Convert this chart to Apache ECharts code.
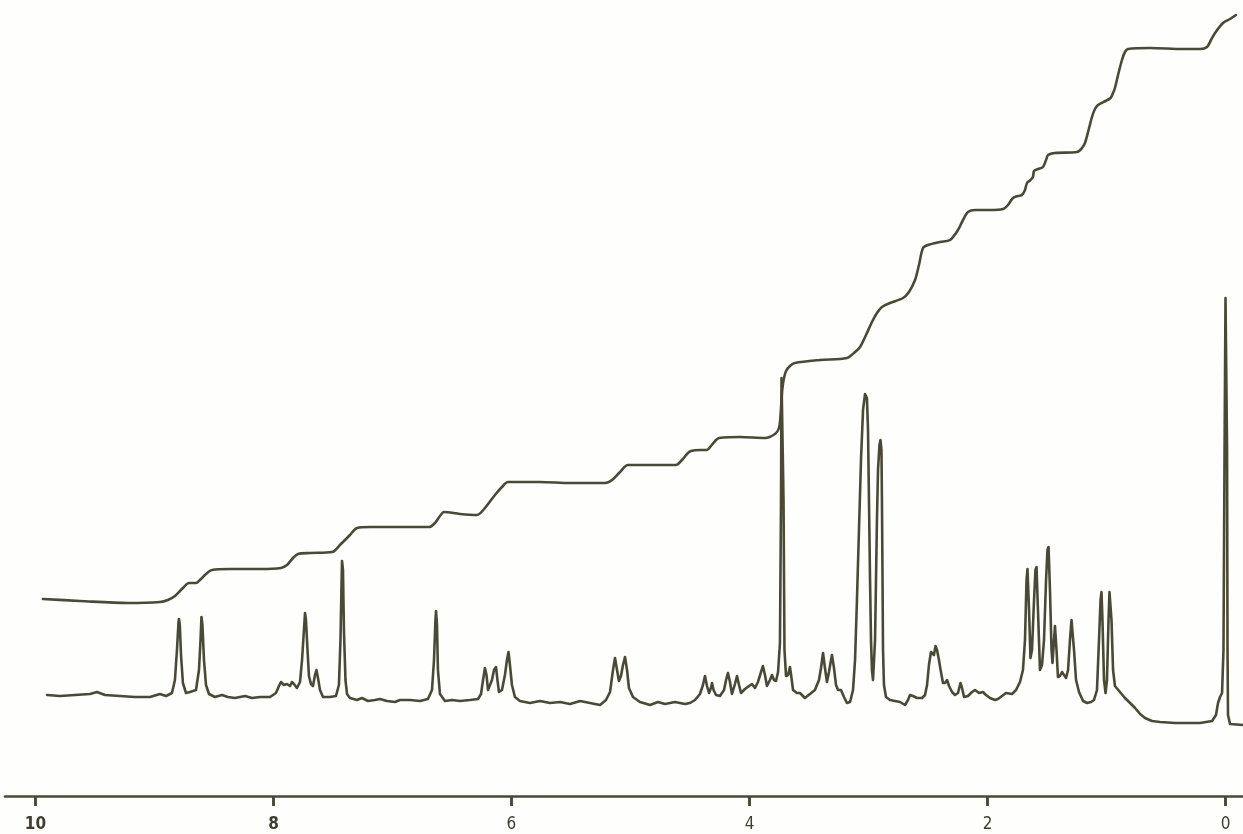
<!DOCTYPE html>
<html>
<head>
<meta charset="utf-8">
<script src="https://cdn.jsdelivr.net/npm/echarts@6/dist/echarts.min.js"></script>
<style>
html,body{margin:0;padding:0;background:#fefefc;}
#c{width:1243px;height:834px;}
</style>
</head>
<body>
<div id="c"></div>
<script>
// chemical shift tick labels (ppm)
const tickLabels = [10, 8, 6, 4, 2, 0];

// 1H NMR spectrum trace: [chemical shift (ppm), intensity (arb. units)]
const spectrumPoints = [
[9.903,35],[9.794,34],[9.668,35],[9.542,36],[9.483,38],[9.416,35],[9.290,34],[9.164,33],[9.038,33],[8.954,36],[8.903,34],[8.853,37],
[8.828,50],[8.811,80],[8.798,108],[8.794,111],[8.787,105],[8.777,75],[8.761,47],[8.735,37],[8.702,38],[8.651,40],
[8.626,60],[8.613,90],[8.605,113],[8.597,105],[8.584,70],[8.567,45],[8.542,36],[8.492,33],[8.433,35],[8.382,33],[8.324,32],
[8.239,34],[8.181,32],[8.113,33],[8.029,33],[7.979,37],[7.954,44],[7.937,48],[7.912,45],[7.887,46],[7.861,44],[7.845,48],[7.828,46],
[7.803,42],[7.777,48],[7.760,70],[7.744,100],[7.735,117],[7.727,110],[7.714,80],[7.702,54],[7.685,46],[7.668,44],[7.651,55],[7.639,60],
[7.626,52],[7.609,40],[7.584,33],[7.525,33],[7.475,34],[7.450,45],[7.437,90],[7.429,140],[7.424,169],[7.416,160],[7.408,100],[7.395,50],
[7.382,36],[7.357,32],[7.298,30],[7.256,32],[7.206,29],[7.147,30],[7.105,31],[7.046,29],[6.979,28],[6.937,30],[6.853,30],[6.769,29],
[6.702,31],[6.668,40],[6.651,70],[6.639,110],[6.634,119],[6.626,105],[6.618,60],[6.601,36],[6.559,29],[6.500,30],[6.433,29],[6.349,30],
[6.281,31],[6.256,36],[6.239,50],[6.223,62],[6.210,55],[6.197,40],[6.181,38],[6.164,50],[6.147,60],[6.130,63],[6.118,50],[6.105,38],
[6.080,40],[6.055,55],[6.038,70],[6.025,78],[6.013,65],[5.996,45],[5.971,33],[5.929,29],[5.845,27],[5.760,29],[5.676,27],[5.592,28],
[5.508,26],[5.424,29],[5.340,27],[5.256,25],[5.206,30],[5.172,38],[5.147,60],[5.130,72],[5.113,60],[5.097,49],[5.080,54],[5.063,65],
[5.046,73],[5.029,60],[5.013,42],[4.979,33],[4.920,28],[4.836,25],[4.769,28],[4.710,26],[4.626,28],[4.542,26],[4.500,27],[4.458,30],
[4.416,36],[4.391,45],[4.374,54],[4.357,44],[4.340,37],[4.324,42],[4.315,47],[4.302,40],[4.281,35],[4.248,34],[4.214,40],[4.197,50],
[4.181,57],[4.164,48],[4.147,36],[4.122,46],[4.105,54],[4.088,45],[4.071,37],[4.038,41],[4.004,44],[3.979,46],[3.954,42],[3.929,48],
[3.903,58],[3.887,64],[3.870,55],[3.853,44],[3.828,50],[3.811,55],[3.794,50],[3.777,49],[3.760,58],[3.744,87],[3.735,230],[3.731,352],
[3.723,350],[3.714,230],[3.706,80],[3.693,54],[3.676,55],[3.660,63],[3.647,52],[3.634,40],[3.601,37],[3.576,37],[3.534,32],[3.492,36],
[3.450,40],[3.416,50],[3.399,62],[3.382,77],[3.366,62],[3.349,48],[3.332,58],[3.315,70],[3.307,75],[3.290,62],[3.273,45],[3.256,40],
[3.231,40],[3.206,33],[3.181,27],[3.155,28],[3.130,40],[3.113,70],[3.097,130],[3.080,200],[3.063,270],[3.046,320],[3.029,336],[3.021,337],
[3.013,332],[3.004,300],[2.996,230],[2.987,150],[2.979,90],[2.971,60],[2.962,50],[2.954,52],[2.945,90],[2.937,150],[2.929,210],[2.920,260],
[2.908,285],[2.899,290],[2.891,280],[2.887,230],[2.882,150],[2.878,80],[2.870,45],[2.853,33],[2.819,30],[2.777,29],[2.735,28],[2.693,25],
[2.668,30],[2.651,35],[2.626,34],[2.592,32],[2.550,32],[2.525,35],[2.508,45],[2.492,65],[2.475,78],[2.462,80],[2.450,75],[2.437,84],
[2.424,80],[2.408,70],[2.391,58],[2.374,47],[2.357,47],[2.340,50],[2.323,44],[2.298,38],[2.273,35],[2.248,37],[2.227,47],[2.214,42],
[2.197,33],[2.164,34],[2.130,38],[2.105,40],[2.071,37],[2.038,38],[2.013,35],[1.979,32],[1.937,30],[1.912,31],[1.878,34],[1.845,37],
[1.794,36],[1.760,40],[1.727,48],[1.702,60],[1.685,90],[1.672,150],[1.664,161],[1.651,120],[1.639,72],[1.626,80],[1.609,130],[1.597,160],
[1.588,163],[1.576,120],[1.559,60],[1.542,65],[1.525,90],[1.508,150],[1.496,180],[1.487,183],[1.475,140],[1.462,80],[1.454,67],[1.441,90],
[1.433,104],[1.420,80],[1.408,53],[1.391,54],[1.374,58],[1.357,55],[1.340,52],[1.323,60],[1.307,90],[1.294,110],[1.286,111],[1.273,80],
[1.256,50],[1.231,38],[1.197,29],[1.164,27],[1.130,28],[1.105,30],[1.080,40],[1.063,90],[1.050,130],[1.042,138],[1.034,110],[1.021,50],
[1.008,37],[0.996,50],[0.983,110],[0.975,138],[0.966,140],[0.958,110],[0.945,60],[0.929,44],[0.887,38],[0.845,32],[0.802,27],[0.760,22],
[0.718,16],[0.676,12],[0.618,9],[0.550,8],[0.424,7],[0.298,7],[0.214,7],[0.113,9],[0.080,15],[0.063,27],[0.046,33],[0.029,37],
[0.017,80],[0.008,280],[0.000,432],[-0.008,430],[-0.013,280],[-0.017,80],[-0.021,15],[-0.038,6],[-0.147,5]
];

// integral trace: [chemical shift (ppm), integral height (arb. units)]
const integralPoints = [
[9.937,131],[9.626,129],[9.223,127],[8.954,128],[8.887,130],[8.828,134],[8.761,142],[8.710,147],[8.651,147],[8.618,150],[8.567,156],
[8.517,160],[8.366,161],[8.113,161],[7.937,162],[7.887,165],[7.836,172],[7.794,176],[7.693,177],[7.508,178],[7.441,185],[7.357,195],
[7.298,202],[7.189,203],[6.937,203],[6.693,203],[6.643,207],[6.601,214],[6.567,218],[6.433,216],[6.290,215],[6.223,222],[6.139,235],
[6.080,243],[6.029,248],[5.760,248],[5.508,247],[5.214,247],[5.155,250],[5.088,258],[5.021,265],[4.836,265],[4.618,265],[4.567,270],
[4.525,276],[4.492,279],[4.416,280],[4.357,280],[4.324,284],[4.281,290],[4.256,292],[4.080,293],[3.870,292],[3.786,296],[3.752,302],
[3.739,315],[3.731,330],[3.723,342],[3.710,352],[3.693,359],[3.660,364],[3.618,367],[3.408,370],[3.181,372],[3.113,378],[3.071,383],
[3.021,395],[2.971,408],[2.929,417],[2.887,423],[2.819,427],[2.710,432],[2.660,438],[2.609,450],[2.576,465],[2.542,482],[2.500,485],
[2.399,488],[2.315,490],[2.248,500],[2.206,510],[2.164,518],[2.105,520],[1.979,520],[1.870,521],[1.828,525],[1.786,532],[1.744,534],
[1.710,535],[1.685,540],[1.668,547],[1.639,550],[1.618,553],[1.609,559],[1.576,561],[1.534,563],[1.508,570],[1.491,575],[1.433,577],
[1.248,578],[1.206,582],[1.181,587],[1.155,598],[1.122,613],[1.097,621],[1.071,625],[1.008,629],[0.966,632],[0.945,637],[0.929,642],
[0.903,655],[0.870,670],[0.845,678],[0.819,681],[0.634,682],[0.357,681],[0.214,681],[0.155,683],[0.122,690],[0.088,697],[0.021,707],
[-0.038,711],[-0.088,715]
];

const ink = '#4a4936';
const fontFam = '"Liberation Sans Narrow", "DejaVu Sans Condensed", sans-serif';
const axisLevel = -66;   // intensity level of the ppm axis line
const tickDepth = 10;    // tick length in intensity units
const chart = echarts.init(document.getElementById('c'), null, {renderer: 'canvas'});
chart.setOption({
  animation: false,
  backgroundColor: '#fefefc',
  grid: {left: 5, right: 0, top: 0, bottom: 20, containLabel: false, outerBoundsMode: 'none'},
  xAxis: {
    type: 'value',
    inverse: true,
    min: -0.147,
    max: 10.256,
    axisLine: {show: true, onZero: true, onZeroAxisIndex: 1, lineStyle: {color: ink, width: 2.6}},
    axisTick: {show: true, customValues: tickLabels, length: 10, lineStyle: {color: ink, width: 2.6}},
    axisLabel: {
      show: true,
      customValues: tickLabels,
      margin: 2,
      color: '#3e3d2e',
      fontFamily: fontFam,
      fontSize: 17,
      formatter: v => (v === 10 || v === 8) ? '{b|' + v + '}' : String(v),
      rich: {b: {fontWeight: 'bold', fontSize: 17, color: '#3e3d2e', fontFamily: fontFam}}
    },
    splitLine: {show: false}
  },
  yAxis: [
    {type: 'value', min: -84, max: 730, show: false, splitLine: {show: false}},
    // reference axis that places the ppm axis line (its zero)
    {type: 'value', min: -18, max: 796, show: false, splitLine: {show: false}}
  ],
  series: [
    {
      name: 'spectrum',
      type: 'line',
      yAxisIndex: 0,
      data: spectrumPoints,
      showSymbol: false,
      smooth: false,
      lineStyle: {color: ink, width: 2.6, cap: 'round', join: 'round'},
      markLine: {
        silent: true,
        animation: false,
        symbol: ['none', 'none'],
        label: {show: false},
        emphasis: {disabled: true},
        lineStyle: {color: ink, width: 2.6, type: 'solid'},
        data: tickLabels.map(v => [{coord: [v, axisLevel]}, {coord: [v, axisLevel - tickDepth]}])
      }
    },
    {
      name: 'integral',
      type: 'line',
      yAxisIndex: 0,
      data: integralPoints,
      showSymbol: false,
      smooth: 0.3,
      lineStyle: {color: ink, width: 2.6, cap: 'round', join: 'round'}
    }
  ]
});
</script>
</body>
</html>
